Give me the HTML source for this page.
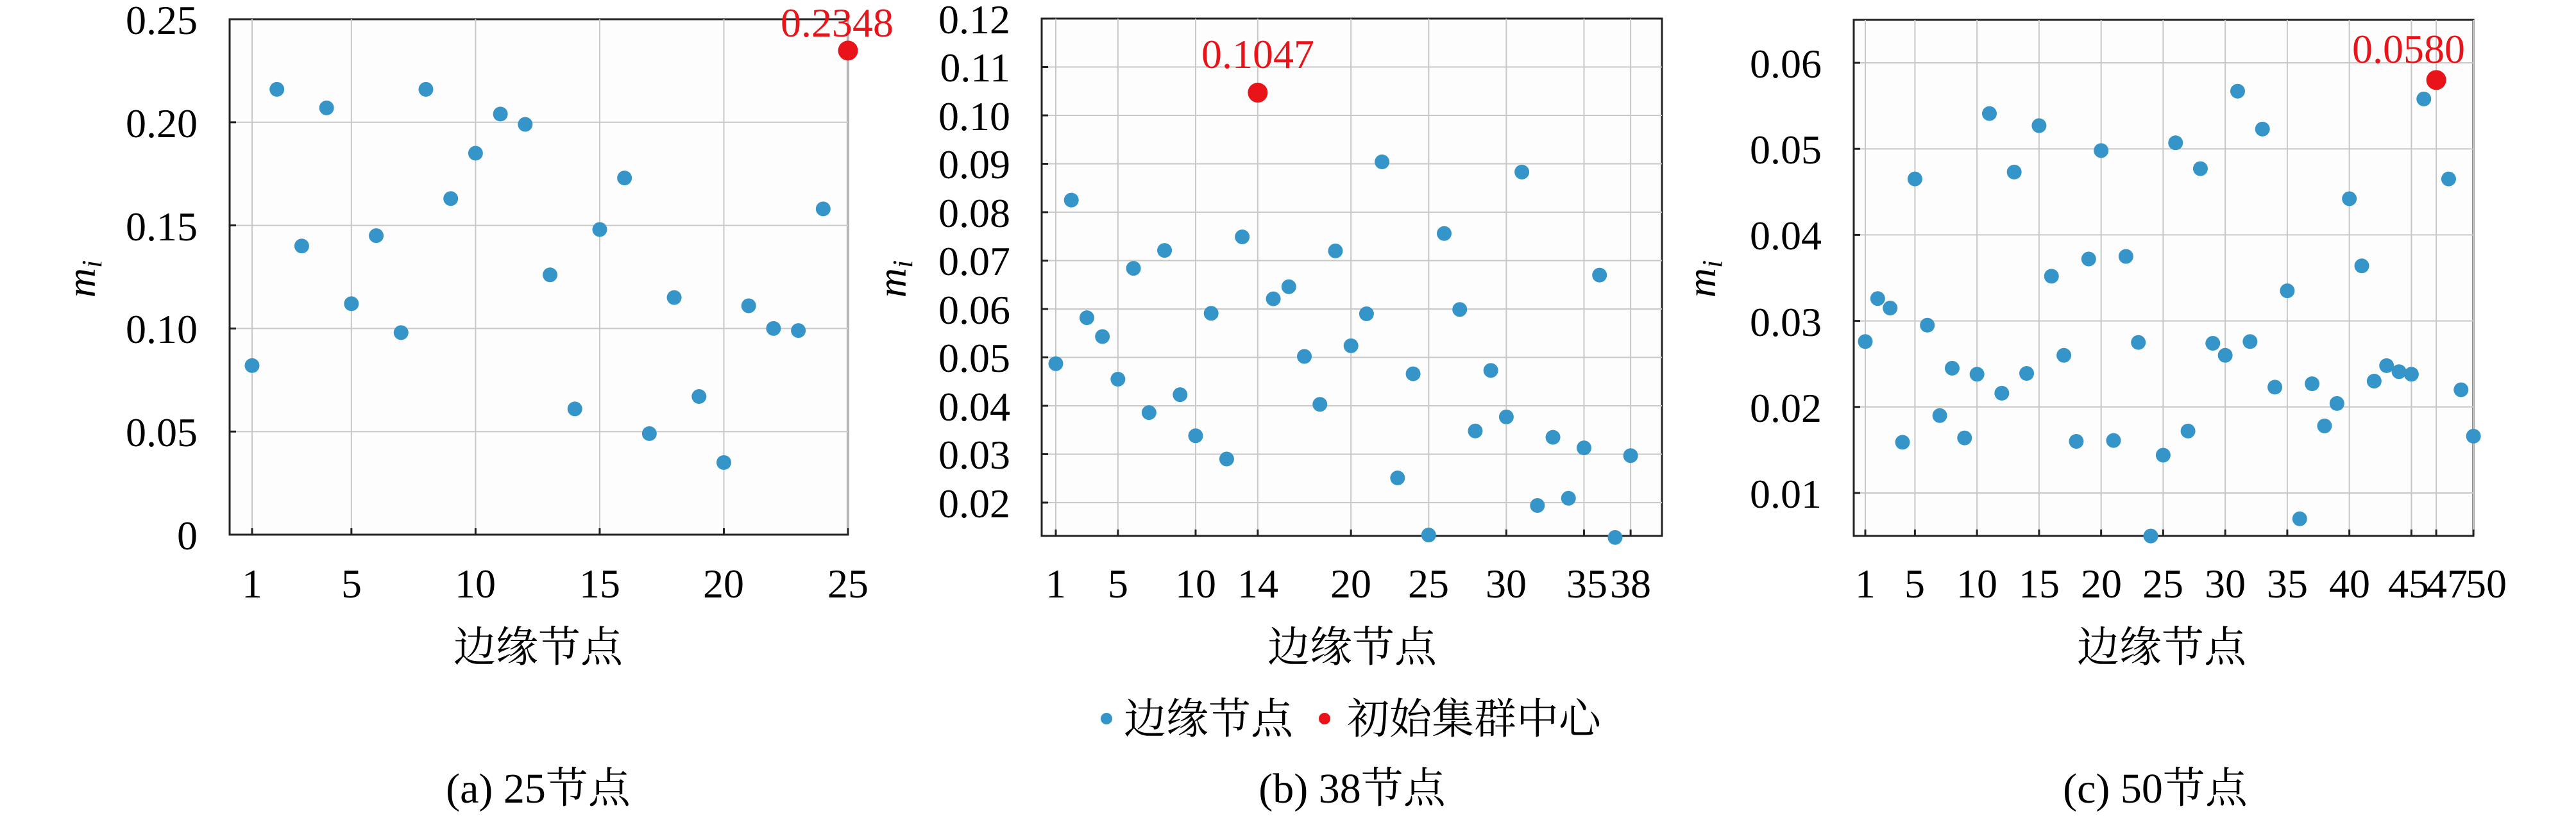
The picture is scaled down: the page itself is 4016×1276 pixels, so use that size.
<!DOCTYPE html>
<html><head><meta charset="utf-8"><style>
html,body{margin:0;padding:0;background:#fff;}
svg{display:block;font-family:"Liberation Serif","DejaVu Serif","Noto Serif CJK SC",serif;}
svg text{font-family:"Liberation Serif","DejaVu Serif","Noto Serif CJK SC",serif;fill:#000;}
.t{font-size:64px;}
.cj{font-size:66px;}
svg text.red{fill:#e8141a;font-size:64px;}
.box{fill:#fdfdfd;stroke:#222;stroke-width:3;}
</style></head><body>
<svg id="s" width="4016" height="1276" viewBox="0 0 4016 1276" xmlns="http://www.w3.org/2000/svg" font-family="'Liberation Serif','DejaVu Serif','Noto Serif CJK SC',serif">
<rect x="358" y="30" width="964" height="804" class="box"/>
<rect x="1624" y="29" width="967" height="807" class="box"/>
<rect x="2890" y="31" width="966" height="805" class="box"/>
<g id="g"></g>
<!-- panel a -->
<g class="t" text-anchor="end">
<text x="308" y="857">0</text><text x="308" y="696">0.05</text><text x="308" y="535">0.10</text><text x="308" y="375">0.15</text><text x="308" y="214">0.20</text><text x="308" y="53">0.25</text>
</g>
<g class="t" text-anchor="middle">
<text x="393" y="932">1</text><text x="548" y="932">5</text><text x="741" y="932">10</text><text x="935" y="932">15</text><text x="1128" y="932">20</text><text x="1322" y="932">25</text>
</g>
<text class="cj" x="839" y="1032" text-anchor="middle">边缘节点</text>
<text x="148" y="435" font-size="64" font-style="italic" text-anchor="middle" transform="rotate(-90 148 435)">m<tspan font-size="44" dy="10">i</tspan></text>
<text class="red" x="1305" y="57" text-anchor="middle">0.2348</text>
<text class="cj" x="839" y="1252" text-anchor="middle">(a) 25节点</text>
<!-- panel b -->
<g class="t" text-anchor="end">
<text x="1575" y="807">0.02</text><text x="1575" y="731">0.03</text><text x="1575" y="656">0.04</text><text x="1575" y="580">0.05</text><text x="1575" y="505">0.06</text><text x="1575" y="429">0.07</text><text x="1575" y="354">0.08</text><text x="1575" y="278">0.09</text><text x="1575" y="203">0.10</text><text x="1575" y="127">0.11</text><text x="1575" y="52">0.12</text>
</g>
<g class="t" text-anchor="middle">
<text x="1646" y="932">1</text><text x="1743" y="932">5</text><text x="1864" y="932">10</text><text x="1961" y="932">14</text><text x="2106" y="932">20</text><text x="2227" y="932">25</text><text x="2348" y="932">30</text><text x="2474" y="932">35</text><text x="2542" y="932">38</text>
</g>
<text class="cj" x="2108" y="1032" text-anchor="middle">边缘节点</text>
<text x="1412" y="435" font-size="64" font-style="italic" text-anchor="middle" transform="rotate(-90 1412 435)">m<tspan font-size="44" dy="10">i</tspan></text>
<text class="red" x="1961" y="106" text-anchor="middle">0.1047</text>
<circle cx="1725" cy="1121" r="9" fill="#3595c9"/>
<text class="cj" x="1752" y="1144">边缘节点</text>
<circle cx="2065" cy="1121" r="9" fill="#e8141a"/>
<text class="cj" x="2100" y="1144">初始集群中心</text>
<text class="cj" x="2108" y="1252" text-anchor="middle">(b) 38节点</text>
<!-- panel c -->
<g class="t" text-anchor="end">
<text x="2840" y="792">0.01</text><text x="2840" y="658">0.02</text><text x="2840" y="524">0.03</text><text x="2840" y="389">0.04</text><text x="2840" y="255">0.05</text><text x="2840" y="121">0.06</text>
</g>
<g class="t" text-anchor="middle">
<text x="2908" y="932">1</text><text x="2985" y="932">5</text><text x="3082" y="932">10</text><text x="3179" y="932">15</text><text x="3276" y="932">20</text><text x="3372" y="932">25</text><text x="3469" y="932">30</text><text x="3566" y="932">35</text><text x="3663" y="932">40</text><text x="3755" y="932">45</text><text x="3815" y="932">47</text><text x="3876" y="932">50</text>
</g>
<text class="cj" x="3370" y="1032" text-anchor="middle">边缘节点</text>
<text x="2674" y="435" font-size="64" font-style="italic" text-anchor="middle" transform="rotate(-90 2674 435)">m<tspan font-size="44" dy="10">i</tspan></text>
<text class="red" x="3755" y="98" text-anchor="middle">0.0580</text>
<text class="cj" x="3360" y="1252" text-anchor="middle">(c) 50节点</text>
</svg>
<script>
var NS="http://www.w3.org/2000/svg",g=document.getElementById("g");
function el(n,a){var e=document.createElementNS(NS,n);for(var k in a)e.setAttribute(k,a[k]);g.appendChild(e);return e;}
function panel(P){
 var X=function(i){return P.x0+(i-1)*P.dx;},Y=function(v){return P.yb-(v-P.vb)*P.sy;};
 P.xt.forEach(function(i){var x=X(i);el("line",{x1:x,x2:x,y1:P.top,y2:P.bot,stroke:"#c8c8c8","stroke-width":2});el("line",{x1:x,x2:x,y1:P.bot-10,y2:P.bot,stroke:"#222","stroke-width":3});});
 P.yt.forEach(function(v){var y=Y(v);el("line",{x1:P.l,x2:P.r,y1:y,y2:y,stroke:"#c8c8c8","stroke-width":2});el("line",{x1:P.l,x2:P.l+10,y1:y,y2:y,stroke:"#222","stroke-width":3});});
 P.d.forEach(function(v,k){var i=k+1;if(i==P.red)return;el("circle",{cx:X(i),cy:Y(v),r:11.5,fill:"#3595c9"});});
 el("circle",{cx:X(P.red),cy:Y(P.d[P.red-1]),r:15.5,fill:"#e8141a"});
}
panel({x0:393,dx:38.71,yb:834,vb:0,sy:3216,top:30,bot:834,l:358,r:1322,red:25,
 xt:[1,5,10,15,20,25],yt:[0.05,0.1,0.15,0.2],
 d:[.082,.216,.140,.207,.112,.145,.098,.216,.163,.185,.204,.199,.126,.061,.148,.173,.049,.115,.067,.035,.111,.100,.099,.158,.2348]});
panel({x0:1646,dx:24.22,yb:784,vb:0.02,sy:7550,top:29,bot:836,l:1624,r:2591,red:14,
 xt:[1,5,10,14,20,25,30,35,38],yt:[.02,.03,.04,.05,.06,.07,.08,.09,.10,.11],
 d:[.0487,.0825,.0582,.0543,.0455,.0684,.0386,.0721,.0423,.0338,.0591,.0290,.0749,.1047,.0621,.0646,.0502,.0403,.0720,.0524,.0590,.0904,.0251,.0466,.0133,.0756,.0599,.0348,.0473,.0377,.0883,.0194,.0335,.0209,.0313,.0670,.0128,.0297]});
panel({x0:2908,dx:19.35,yb:769,vb:0.01,sy:13420,top:31,bot:836,l:2890,r:3856,red:47,
 xt:[1,5,10,15,20,25,30,35,40,45,47,50],yt:[.01,.02,.03,.04,.05,.06],
 d:[.0276,.0326,.0315,.0159,.0465,.0295,.0190,.0245,.0164,.0238,.0541,.0216,.0473,.0239,.0527,.0352,.0260,.0160,.0372,.0498,.0161,.0375,.0275,.0050,.0144,.0507,.0172,.0477,.0274,.0260,.0567,.0276,.0523,.0223,.0335,.0070,.0227,.0178,.0204,.0442,.0364,.0230,.0248,.0241,.0238,.0558,.0580,.0465,.0220,.0166]});
</script>
</body></html>
